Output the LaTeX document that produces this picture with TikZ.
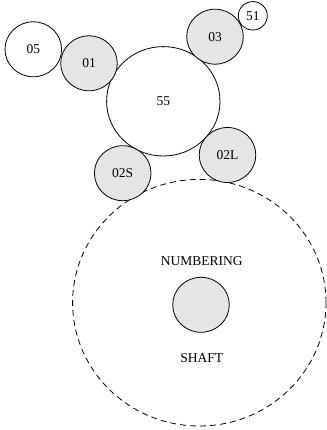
\documentclass[tikz,border=0pt]{standalone}
\usepackage{fontspec}
\setmainfont{Liberation Serif}
\usepackage{tikz}
\usetikzlibrary{shapes.geometric}
\definecolor{gearfill}{RGB}{229,229,229}
\tikzset{
  gear/.style={ellipse,draw,line width=0.8pt,inner sep=0pt,minimum width=56.6pt,minimum height=55pt},
  ring/.style={ellipse,draw,dashed,dash pattern=on 6pt off 4pt,line width=0.8pt,inner sep=0pt,minimum width=253.4pt,minimum height=246.6pt},
  lbl/.style={font=\fontsize{13.5}{16}\selectfont}
}
\newcommand{\gearnode}[5]{\node[gear,fill=#5,lbl] (#1) at ( #2 , #3 ) {#4};}

\begin{document}
\begin{tikzpicture}[x=1pt,y=-1pt]
\useasboundingbox (0,0) rectangle (326,430);
% shaft ring
\node[ring] (shaftring) at (199.3,302.7) {};
% gears round 55
\node[gear,fill=white,minimum width=113.4pt,minimum height=109.4pt,lbl] (g55) at (163.3,101.3) {55};
\gearnode{g05}{33.3}{49.3}{05}{white}
\gearnode{g01}{89}{63.3}{01}{gearfill}
\gearnode{g03}{215}{36.7}{03}{gearfill}
\node[gear,fill=white,minimum width=29pt,minimum height=28.4pt,lbl] (g51) at (252.8,15.8) {51};
\gearnode{g02L}{227.5}{155}{02L}{gearfill}
\gearnode{g02S}{122.7}{173.2}{02S}{gearfill}
% shaft
\gearnode{shaft}{201}{304.8}{}{gearfill}
\node[lbl] (numbering) at (201.7,261) {NUMBERING};
\node[lbl] (shafttext) at (201.7,357.7) {SHAFT};
\end{tikzpicture}
\end{document}
